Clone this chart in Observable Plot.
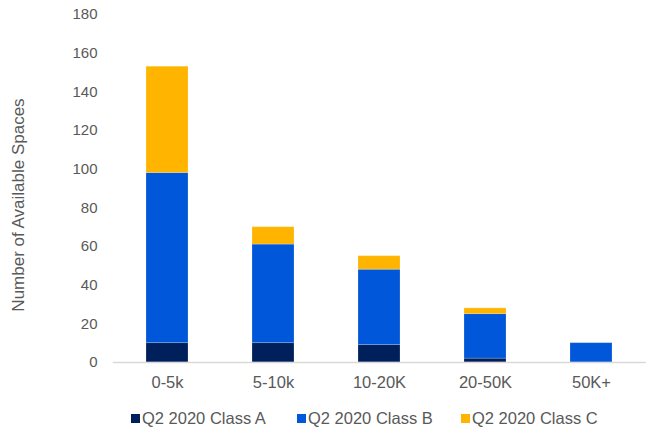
<!DOCTYPE html>
<html>
<head>
<meta charset="utf-8">
<script src="https://cdn.jsdelivr.net/npm/d3@7"></script>
<script src="https://cdn.jsdelivr.net/npm/@observablehq/plot@0.6"></script>
<style>
  html, body { margin: 0; padding: 0; background: #fff; }
  body { font-family: "Liberation Sans", Arial, sans-serif; color: #595959; width: 647px; height: 430px; position: relative; overflow: hidden; }
  #legend { position: relative; height: 35px; font-size: 16.5px; color: #595959; }
  .item { position: absolute; top: 14px; display: flex; align-items: center; line-height: 18px; }
  .sw { width: 9px; height: 9px; margin-right: 2px; }
  #ylabel { position: absolute; left: 19px; top: 205px; transform: translate(-50%, -50%) rotate(-90deg); white-space: nowrap; font-size: 17px; color: #595959; }
</style>
</head>
<body>
<div id="chart"></div>
<div id="legend"></div>
<div id="ylabel"></div>
<script>
const categories = ["0-5k", "5-10k", "10-20K", "20-50K", "50K+"];
const seriesNames = ["Q2 2020 Class A", "Q2 2020 Class B", "Q2 2020 Class C"];
const classA = [10, 10, 9, 2, 0];
const classB = [88, 51, 39, 23, 10];
const classC = [55, 9, 7, 3, 0];
const colors = ["#00205B", "#0057D9", "#FFB500"];
const yTicks = [0, 20, 40, 60, 80, 100, 120, 140, 160, 180];
const yLabel = "Number of Available Spaces";

const seriesValues = [classA, classB, classC];
const data = [];
seriesNames.forEach((s, si) => {
  categories.forEach((c, ci) => {
    data.push({category: c, series: s, value: seriesValues[si][ci], order: si});
  });
});

const chart = Plot.plot({
  width: 647,
  height: 395,
  marginLeft: 112.7,
  marginRight: 1.2,
  marginTop: 14,
  marginBottom: 33,
  style: {fontFamily: '"Liberation Sans", Arial, sans-serif', fontSize: "15px", color: "#595959", background: "#fff"},
  x: {domain: categories, paddingInner: 0.6, paddingOuter: 0.3, label: null},
  y: {domain: [0, 180], label: null},
  color: {domain: seriesNames, range: colors},
  marks: [
    Plot.axisX({tickSize: 0, tickPadding: 14, fontSize: 16.5, label: null}),
    Plot.axisY({ticks: yTicks, tickSize: 0, tickPadding: 15.7, fontSize: 15, label: null}),
    Plot.barY(data, Plot.stackY({order: "order", x: "category", y: "value", fill: "series", stroke: "#ffffff", strokeOpacity: 0.25, strokeWidth: 0.8})),
    Plot.ruleY([0], {stroke: "#d9d9d9", strokeWidth: 1.3})
  ]
});
document.getElementById("chart").appendChild(chart);
document.getElementById("ylabel").textContent = yLabel;

const legend = document.getElementById("legend");
const legendX = [131, 297, 461];
seriesNames.forEach((s, i) => {
  const it = document.createElement("div");
  it.className = "item";
  it.style.left = legendX[i] + "px";
  const sw = document.createElement("span");
  sw.className = "sw";
  sw.style.background = colors[i];
  const t = document.createElement("span");
  t.textContent = s;
  it.appendChild(sw);
  it.appendChild(t);
  legend.appendChild(it);
});
</script>
</body>
</html>
